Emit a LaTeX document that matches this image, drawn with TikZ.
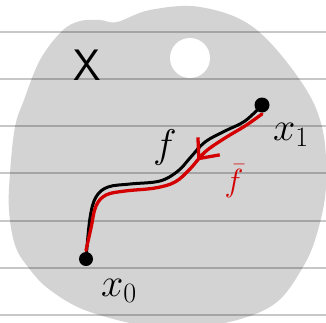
\documentclass[tikz,border=0pt]{standalone}
\usepackage{fix-cm}
\usepackage{tikz}
\usetikzlibrary{arrows.meta,decorations.markings}
\definecolor{ntgray}{HTML}{D3D3D3}
\definecolor{ntred}{HTML}{D40000}

\begin{document}
\begin{tikzpicture}[x=1pt, y=-1pt, line width=3pt, line cap=round, line join=round,
  pt/.style={circle, fill=black, inner sep=0pt, minimum size=14pt},
  lbl/.style={inner sep=0pt, font=\fontsize{40}{40}\selectfont}]
  \useasboundingbox (0,0) rectangle (326,322);
  \clip (0,0) rectangle (326,322);
  % the space X (grey blob with a hole)
  \fill[ntgray] plot[smooth cycle, tension=0.6] coordinates {
    (62,31) (80,21) (100,20) (117,22) (150,10) (200,7) (253,27) (300,80)
    (322,127) (326,185) (318,230) (303,267) (273,305) (220,324) (160,328)
    (90,312) (50,290) (28,267) (15,245) (9,210) (10,173) (15,127) (24,100)
    (40,60)};
  \fill[white] (190,58) circle (20);
  % ruled paper
  \foreach \y in {32,79,126,173,221,268,315}
    \draw[black, opacity=0.22, line width=1.5pt, line cap=butt] (0,\y) -- (326,\y);
  % end points
  \node[pt, minimum width=11pt, minimum height=15pt] (x1) at (262,105) {};
  \node[pt] (x0) at (86,259) {};
  % path f and reverse path
  \draw[black] plot[smooth, tension=0.6] coordinates {(x1.center) (245,121)
    (225,131) (205,142) (190,158) (178,171) (160,181) (130,184) (108,187)
    (96,197) (90,218) (x0.center)};
  \draw[ntred, line width=3.3pt, postaction={decorate},
    decoration={markings, mark=at position 0.33 with
      {\arrow{Straight Barb[length=16pt, width=28pt]}}}]
    plot[smooth, tension=0.6] coordinates {(x1.south) (245,126) (225,138)
    (205,152) (190,169) (175,182) (155,188) (125,191) (106,195) (96,206)
    (91,228) (x0.north)};
  % labels
  \node[lbl, font=\sffamily\fontsize{44}{44}\selectfont] (lx) at (87,65) {X};
  \node[lbl] (l1) at (291,135) {$x_1$};
  \node[lbl] (l0) at (119,291) {$x_0$};
  \node[lbl] (lf) at (165,147) {$f$};
  \node[lbl, text=ntred, font=\fontsize{32}{32}\selectfont] (lfb) at (234,181) {$\bar{f}$};
\end{tikzpicture}
\end{document}
